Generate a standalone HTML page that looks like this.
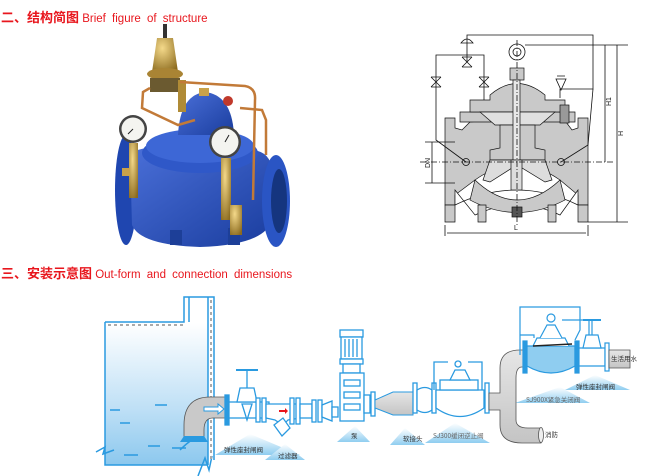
<!DOCTYPE html>
<html><head><meta charset="utf-8"><style>
html,body{margin:0;padding:0;background:#fff;}
body{width:650px;height:476px;overflow:hidden;position:relative;font-family:"Liberation Sans","Noto Sans CJK SC",sans-serif;}
.t{position:absolute;color:#e8161d;font-size:11.5px;white-space:nowrap;}
.t b{font-family:"Noto Sans CJK SC","WenQuanYi Zen Hei",sans-serif;font-size:13px;font-weight:bold;}
svg{position:absolute;left:0;top:0;}
</style></head><body>
<div class="t" style="left:1px;top:7px;"><b>二、结构简图</b> <span style="word-spacing:3px">Brief figure of structure</span></div>
<div class="t" style="left:1px;top:263px;"><b>三、安装示意图</b> <span style="word-spacing:3px">Out-form and connection dimensions</span></div>
<svg width="650" height="476" viewBox="0 0 650 476">
<defs>
<linearGradient id="bl" x1="0" y1="0" x2="1" y2="1"><stop offset="0" stop-color="#4a6fd8"/><stop offset="1" stop-color="#1a3d9e"/></linearGradient>
<radialGradient id="br" cx="0.4" cy="0.3" r="0.8"><stop offset="0" stop-color="#f4d98a"/><stop offset="1" stop-color="#8b6a1e"/></radialGradient>
<linearGradient id="water" x1="0" y1="0" x2="0" y2="1"><stop offset="0" stop-color="#ffffff"/><stop offset="0.6" stop-color="#bfe0f6"/><stop offset="1" stop-color="#8cc8ee"/></linearGradient>
<linearGradient id="tri" x1="0" y1="0" x2="0" y2="1"><stop offset="0" stop-color="#ffffff"/><stop offset="1" stop-color="#8fcdf0"/></linearGradient>
<linearGradient id="gp" x1="0" y1="0" x2="0" y2="1"><stop offset="0" stop-color="#e6e6e6"/><stop offset="1" stop-color="#c4c4c4"/></linearGradient>
</defs>

<g>
<ellipse cx="126" cy="190" rx="11" ry="55" fill="#1f46b0"/>
<path d="M130 155 Q140 145 160 150 L250 150 Q270 150 272 170 L272 220 Q265 245 200 247 Q140 245 132 225 Z" fill="url(#bl)"/>
<ellipse cx="276" cy="201" rx="14" ry="46" fill="#2a55c4"/>
<ellipse cx="279" cy="201" rx="8" ry="32" fill="#15357f"/>
<rect x="170" y="230" width="12" height="15" fill="#1d3f98"/><rect x="228" y="228" width="12" height="17" fill="#1d3f98"/>
<ellipse cx="200" cy="153" rx="58" ry="20" fill="#2f58c8"/>
<ellipse cx="200" cy="146" rx="54" ry="17" fill="#3d67d6"/>
<path d="M178 135 Q180 95 205 92 Q232 95 234 135 Z" fill="url(#bl)"/>
<rect x="199" y="88" width="10" height="8" fill="#c9a24a"/>
<rect x="163" y="24" width="4" height="14" fill="#333"/>
<path d="M157 38 L173 38 L178 72 L152 72 Z" fill="url(#br)"/>
<ellipse cx="165" cy="74" rx="18" ry="6" fill="#a98434"/>
<rect x="150" y="78" width="30" height="14" fill="#6b5a30"/>
<rect x="178" y="80" width="8" height="32" fill="#b08b36"/>
<path d="M180 82 L245 86 Q256 88 255 100 L253 200" stroke="#c27a38" stroke-width="2.5" fill="none"/>
<path d="M150 88 L143 92 L142 108 L178 125 L195 120" stroke="#c27a38" stroke-width="2.5" fill="none"/>
<path d="M240 108 L262 110 L266 120 L266 155" stroke="#c27a38" stroke-width="2.5" fill="none"/>
<circle cx="228" cy="101" r="5" fill="#c0392b"/>
<circle cx="133" cy="129" r="14" fill="#444"/><circle cx="133" cy="129" r="11.5" fill="#f4f4f0"/>
<line x1="133" y1="129" x2="128" y2="134" stroke="#222" stroke-width="1"/>
<circle cx="225" cy="142" r="16" fill="#444"/><circle cx="225" cy="142" r="13.5" fill="#f4f4f0"/>
<line x1="225" y1="142" x2="229" y2="135" stroke="#222" stroke-width="1"/>
<rect x="129" y="143" width="9" height="55" fill="url(#br)"/>
<rect x="221" y="158" width="10" height="62" fill="url(#br)"/>
<rect x="230" y="205" width="12" height="30" fill="url(#br)"/>
<rect x="122" y="168" width="8" height="8" fill="#c9a24a"/>
</g>

<g stroke="#111" stroke-width="0.7" fill="#c9c9c9">
<path d="M445 118 L455 118 L455 128 L462 130 L470 122 L490 120 L500 118 L530 118 L548 120 L566 122 L572 130 L578 128 L578 118 L588 118 L588 205 L578 205 L578 195 L560 180 Q517 150 475 180 L455 195 L455 205 L445 205 Z"/>
<path d="M455 190 L475 215 Q517 195 560 215 L578 190 L578 205 Q517 175 455 205 Z" fill="#fff"/>
<path d="M445 205 L455 205 L455 222 L445 222 Z M578 205 L588 205 L588 222 L578 222 Z"/>
<path d="M475 180 Q517 220 560 180 L565 200 Q517 225 470 200 Z"/>
<path d="M478 205 L486 205 L486 222 L478 222 Z M548 205 L556 205 L556 222 L548 222 Z"/>
<path d="M460 112 L575 112 L575 122 L460 122 Z"/>
<path d="M470 100 L490 100 L490 95 Q517 72 545 95 L545 100 L565 100 L565 112 L470 112 Z"/>
<path d="M480 112 L555 112 L540 125 L495 125 Z" fill="#e0e0e0"/>
<path d="M500 125 L535 125 L535 148 L545 150 L545 160 L490 160 L490 150 L500 148 Z"/>
<path d="M490 160 L483 180 L490 182 L512 168 L522 168 L545 182 L552 180 L545 160 Z" fill="#ddd"/>
<rect x="510" y="68" width="14" height="12"/>
<rect x="513" y="80" width="7" height="80" fill="#e8e8e8"/>
<rect x="511" y="160" width="11" height="30" fill="#ddd"/>
<rect x="512" y="207" width="10" height="10" fill="#555"/>
<rect x="560" y="105" width="9" height="18" fill="#999"/>
</g>
<g stroke="#111" stroke-width="0.8" fill="none">
<circle cx="517" cy="52" r="8"/><circle cx="517" cy="52" r="4"/>
<polyline points="467,62 467,35 593,35 593,89 560,89 560,98"/>
<polyline points="593,89 588,145 561,162"/>
<polyline points="436,62 436,55 460,55 484,55 484,68 484,100"/>
<polyline points="436,62 436,140 466,162"/>
<path d="M462 57 L472 67 M472 57 L462 67 M462 57 L472 57 M462 67 L472 67"/>
<path d="M431 77 L441 87 M441 77 L431 87 M431 77 L441 77 M431 87 L441 87"/>
<path d="M479 77 L489 87 M489 77 L479 87 M479 77 L489 77 M479 87 L489 87"/>
<path d="M461 43 Q467 35 473 43 Z M556 79 L566 79 L561 90 Z M557 76 L565 76"/>
<circle cx="466" cy="162" r="3.5"/><circle cx="561" cy="162" r="3.5"/>
<line x1="420" y1="162" x2="615" y2="162" stroke-dasharray="6,2,1,2"/>
<line x1="517" y1="40" x2="517" y2="225" stroke-dasharray="6,2,1,2"/>
<line x1="525" y1="45" x2="628" y2="45"/>
<line x1="588" y1="222" x2="628" y2="222"/>
<line x1="605" y1="45" x2="605" y2="162"/><line x1="617" y1="45" x2="617" y2="222"/>
<line x1="445" y1="225" x2="445" y2="236"/><line x1="588" y1="225" x2="588" y2="236"/>
<line x1="447" y1="233" x2="586" y2="233"/>
<line x1="432" y1="142" x2="432" y2="183"/>
<line x1="425" y1="142" x2="455" y2="142"/><line x1="425" y1="183" x2="455" y2="183"/>
</g>
<g font-size="7" fill="#111" font-family="Liberation Sans">
<text x="514" y="230">L</text>
<text transform="translate(611,106) rotate(-90)">H1</text>
<text transform="translate(623,136) rotate(-90)">H</text>
<text transform="translate(430,168) rotate(-90)">DN</text>
</g>

<g fill="url(#tri)">
<path d="M215 455 L250 434 L300 455 Z"/><path d="M265 460 L285 444 L305 460 Z"/>
<path d="M337 442 L355 426 L370 442 Z"/><path d="M390 445 L405 428 L425 445 Z"/>
<path d="M425 443 L455 423 L490 443 Z"/><path d="M515 403 L560 387 L590 403 Z"/>
<path d="M565 390 L595 375 L630 390 Z"/>
</g>
<rect x="105" y="323" width="103" height="142" fill="url(#water)"/>
<g stroke="#2a9ae0" stroke-width="1.5" fill="none">
<polyline points="105,322 105,465 207,465"/>
<polyline points="105,322 184,322 184,297 214,297 214,460"/>
<line x1="208" y1="297" x2="208" y2="465"/>
<line x1="189" y1="297" x2="189" y2="322"/>
<path d="M110 410 h10 M155 405 h12 M148 446 h12 M124 455 h14 M172 448 h14 M120 423 h10"/>
<path d="M96 452 L105 447 L103 454 L114 450" />
<path d="M198 476 L205 458 L209 470 L212 456"/>
<path d="M180 450 Q190 440 196 438"/>
</g>
<g stroke="#aaa" stroke-width="2" stroke-dasharray="3,3"><line x1="108" y1="325" x2="184" y2="325"/><line x1="211" y1="300" x2="211" y2="462"/></g>
<path d="M184 438 L184 425 Q184 397 210 397 L227 397 L227 418 L213 418 Q204 418 204 430 L204 438 Z" fill="#c9c9c9" stroke="#555" stroke-width="0.8"/>
<path d="M180 442 L208 442 L204 436 L184 436 Z" fill="#2a9ae0"/>
<path d="M204 407 L218 407 L218 404 L224 409 L218 414 L218 411 L204 411 Z" fill="#fff" stroke="#2a9ae0"/>
<g stroke="#2a9ae0" stroke-width="1.3" fill="#fff">
<rect x="225" y="395" width="4" height="30" fill="#2a9ae0"/>
<rect x="229" y="402" width="40" height="16"/>
<path d="M237 402 L240 388 L254 388 L257 402 Z"/>
<path d="M242 404 L247 420 L252 404 Z"/>
<line x1="247" y1="388" x2="247" y2="370"/>
<path d="M236 370 L258 370" stroke-width="2"/>
<rect x="256" y="398" width="4" height="24"/><rect x="262" y="398" width="4" height="24"/>
<path d="M266 404 L300 404 L300 418 L288 420 Q283 426 275 420 L266 418 Z"/>
<path d="M274 425 L283 418 L290 428 L282 436 Z"/>
<rect x="290" y="398" width="4" height="26"/><rect x="296" y="398" width="4" height="26"/>
<rect x="300" y="404" width="12" height="14"/>
<rect x="312" y="400" width="4" height="22"/><rect x="318" y="400" width="4" height="22"/>
<path d="M322 405 L332 401 L332 421 L322 417 Z"/>
<rect x="332" y="407" width="6" height="10"/>
</g>
<path d="M279 410 l6 0 l0 -2 l3 3 l-3 3 l0 -2 l-6 0 Z" fill="#e8161d"/>
<g stroke="#2a9ae0" stroke-width="1.3" fill="#fff">
<rect x="340" y="330" width="23" height="7"/>
<rect x="341" y="337" width="21" height="22"/>
<path d="M345 339 v18 M349 339 v18 M353 339 v18 M357 339 v18"/>
<rect x="340" y="359" width="23" height="5"/>
<rect x="343" y="364" width="17" height="9"/>
<rect x="340" y="373" width="24" height="48"/>
<rect x="344" y="380" width="16" height="6"/><rect x="344" y="392" width="16" height="6"/><rect x="344" y="404" width="16" height="6"/>
<rect x="364" y="395" width="6" height="18"/>
<rect x="371" y="392" width="4" height="24"/>
</g>
<path d="M375 400 L393 392 L413 392 L413 415 L393 415 L375 408 Z" fill="url(#gp)" stroke="#2a9ae0" stroke-width="1"/>
<g stroke="#2a9ae0" stroke-width="1.3" fill="#fff">
<rect x="413" y="383" width="4" height="30"/>
<path d="M417 390 Q425 385 432 390 L432 410 Q425 415 417 410 Z"/>
<rect x="432" y="383" width="4" height="30"/>
<path d="M436 390 L484 390 L484 408 Q460 425 436 408 Z"/>
<rect x="440" y="380" width="38" height="10"/>
<path d="M450 380 L455 370 L465 370 L470 380 Z"/>
<circle cx="458" cy="364" r="3"/>
<polyline points="434,390 434,362 448,362" fill="none"/>
<polyline points="482,390 482,362 468,362" fill="none"/>
<rect x="485" y="383" width="4" height="30"/>
</g>
<path d="M489 393 L500 393 L500 368 Q500 350 520 350 L527 350 L527 367 L522 367 Q516 367 516 378 L516 420 Q516 428 528 428 L541 428 L541 443 L522 443 Q500 443 500 425 L500 410 L489 410 Z" fill="url(#gp)" stroke="#555" stroke-width="0.8"/>
<ellipse cx="541" cy="435" rx="2.5" ry="7.5" fill="#eee" stroke="#555" stroke-width="0.8"/>
<g stroke="#2a9ae0" stroke-width="1.2" fill="none">
<rect x="523" y="341" width="4" height="32" fill="#2a9ae0"/>
<path d="M527 346 L575 346 L575 366 Q551 380 527 366 Z" fill="#8fcdf0"/>
<path d="M533 346 L537 338 L565 338 L569 346" fill="#fff"/>
<path d="M540 338 L547 325 L555 325 L562 338" fill="#fff"/>
<circle cx="551" cy="318" r="4" fill="#fff"/>
<polyline points="520,355 520,307 580,307 580,330 575,340"/>
<polyline points="520,335 534,335 534,338"/>
<polyline points="562,320 572,320 580,320 589,320 589,340"/>
<rect x="575" y="341" width="4" height="32" fill="#2a9ae0"/>
<path d="M579 348 L605 348 L605 366 L579 366 Z" fill="#fff"/>
<path d="M583 348 L586 335 L598 335 L601 348 Z" fill="#fff"/>
<line x1="592" y1="335" x2="592" y2="320"/>
<path d="M583 320 L601 320" stroke-width="2"/>
<rect x="605" y="343" width="4" height="28" fill="#fff"/>
</g>
<line x1="533" y1="346" x2="572" y2="344" stroke="#222" stroke-width="1.5"/>
<path d="M609 350 L630 350 L630 368 L609 368 Z" fill="url(#gp)" stroke="#555" stroke-width="0.8"/>
<g font-size="6.5" fill="#333" font-family="Noto Sans CJK SC,sans-serif">
<text x="224" y="452">弹性座封闸阀</text>
<text x="278" y="458">过滤器</text>
<text x="351" y="438">泵</text>
<text x="403" y="441">软接头</text>
<text x="433" y="438" fill="#666">SJ300缓闭逆止阀</text>
<text x="526" y="402" fill="#666">SJ900X紧急关闭阀</text>
<text x="576" y="389">弹性座封闸阀</text>
<text x="611" y="361">生活用水</text>
<text x="545" y="437">消防</text>
</g>
</svg>
</body></html>
